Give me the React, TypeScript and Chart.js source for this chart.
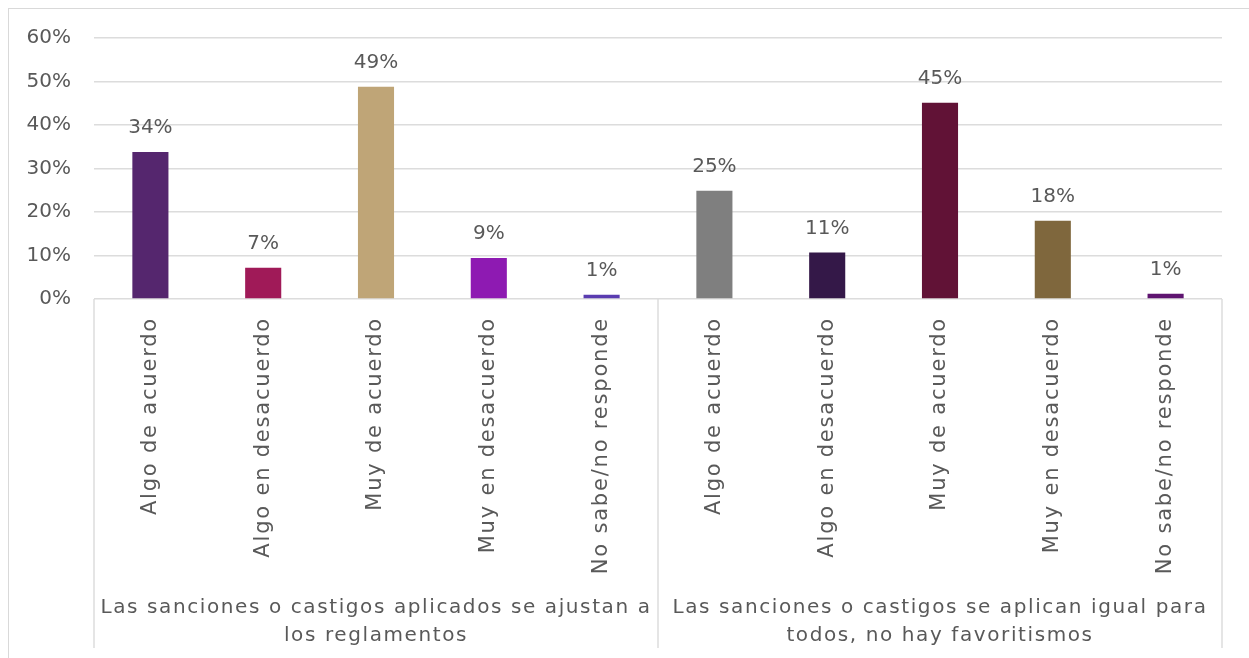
import React, { useEffect, useRef } from "react";
import { Chart, registerables } from "chart.js";

Chart.register(...registerables);

const categories = [
  "Algo de acuerdo",
  "Algo en desacuerdo",
  "Muy de acuerdo",
  "Muy en desacuerdo",
  "No sabe/no responde",
  "Algo de acuerdo",
  "Algo en desacuerdo",
  "Muy de acuerdo",
  "Muy en desacuerdo",
  "No sabe/no responde",
];

const values = [33.8, 7.2, 48.8, 9.4, 1.0, 24.9, 10.7, 45.1, 18.0, 1.2];

const barColors = [
  "#55266E",
  "#A01A58",
  "#BFA577",
  "#8E1AB2",
  "#5A3CB0",
  "#7F7F7F",
  "#341848",
  "#611236",
  "#7F673D",
  "#5E1470",
];

const groupLabels = [
  ["Las sanciones o castigos aplicados se ajustan a", "los reglamentos"],
  ["Las sanciones o castigos se aplican igual para", "todos, no hay favoritismos"],
];
const groupSizes = [5, 5];

const yTicks = [0, 10, 20, 30, 40, 50, 60];

const FONT = "'DejaVu Sans', sans-serif";
const TEXT = "#595959";
const GRID = "#DCDCDC";

const dataLabelPlugin = {
  id: "dataLabels",
  afterDatasetsDraw(chart: any) {
    const ctx = chart.ctx;
    const meta = chart.getDatasetMeta(0);
    ctx.save();
    ctx.fillStyle = TEXT;
    ctx.font = `20px ${FONT}`;
    ctx.textAlign = "center";
    ctx.textBaseline = "middle";
    meta.data.forEach((el: any, i: number) => {
      ctx.fillText(Math.round(values[i]) + "%", el.x, el.y - 24);
    });
    ctx.restore();
  },
};

const groupPlugin = {
  id: "groups",
  afterDraw(chart: any) {
    const ctx = chart.ctx;
    const xs = chart.scales.x;
    const area = chart.chartArea;
    const half = (xs.getPixelForTick(1) - xs.getPixelForTick(0)) / 2;
    const bottom = 640;

    // category labels (rotated, reading upward)
    ctx.save();
    ctx.fillStyle = TEXT;
    ctx.font = `21px ${FONT}`;
    (ctx as any).letterSpacing = "1.8px";
    ctx.textAlign = "right";
    ctx.textBaseline = "middle";
    categories.forEach((label, i) => {
      const x = xs.getPixelForTick(i);
      ctx.save();
      ctx.translate(x, area.bottom + 18);
      ctx.rotate(-Math.PI / 2);
      ctx.fillText(label, 0, 0);
      ctx.restore();
    });
    ctx.restore();

    const bounds: number[] = [area.left];
    let idx = 0;
    groupSizes.forEach((n) => {
      idx += n;
      bounds.push(xs.getPixelForTick(idx - 1) + half);
    });
    ctx.save();
    ctx.strokeStyle = GRID;
    ctx.lineWidth = 1.5;
    bounds.forEach((bx) => {
      const px = Math.round(bx);
      ctx.beginPath();
      ctx.moveTo(px, area.bottom);
      ctx.lineTo(px, bottom);
      ctx.stroke();
    });
    ctx.fillStyle = TEXT;
    ctx.font = `20px ${FONT}`;
    (ctx as any).letterSpacing = "1.6px";
    ctx.textAlign = "center";
    ctx.textBaseline = "middle";
    groupLabels.forEach((lines, g) => {
      const cx = (bounds[g] + bounds[g + 1]) / 2;
      lines.forEach((line, li) => {
        ctx.fillText(line, cx, 600 + li * 28);
      });
    });
    ctx.restore();
  },
};

export default function App() {
  const ref = useRef<HTMLCanvasElement | null>(null);

  useEffect(() => {
    if (!ref.current) return;
    const chart = new Chart(ref.current, {
      type: "bar",
      data: {
        labels: categories,
        datasets: [
          {
            data: values,
            backgroundColor: barColors,
            borderWidth: 0,
            barPercentage: 0.32,
            categoryPercentage: 1,
          },
        ],
      },
      options: {
        animation: false,
        responsive: false,
        maintainAspectRatio: false,
        layout: { padding: { left: 0, top: 30, right: 27, bottom: 0 } },
        plugins: {
          legend: { display: false },
          tooltip: { enabled: false },
        },
        scales: {
          x: {
            grid: { display: false, drawTicks: false },
            border: { display: false },
            ticks: { display: false, autoSkip: false },
            afterFit(scale: any) {
              scale.height = 359;
              scale.paddingLeft = 0;
              scale.paddingRight = 0;
            },
          },
          y: {
            min: 0,
            max: 60,
            afterBuildTicks(scale: any) {
              scale.ticks = yTicks.map((v) => ({ value: v }));
            },
            grid: { color: GRID, lineWidth: 1.5, drawTicks: false },
            border: { display: false },
            ticks: {
              padding: 23,
              color: TEXT,
              font: { family: FONT, size: 20 },
              callback: (v: any) => v + "%",
            },
            afterFit(scale: any) {
              scale.width = 86;
              scale.paddingTop = 0;
              scale.paddingBottom = 0;
            },
          },
        },
      },
      plugins: [dataLabelPlugin, groupPlugin],
    });
    return () => chart.destroy();
  }, []);

  return (
    <div
      style={{
        position: "absolute",
        left: 8,
        top: 8,
        width: 1241,
        height: 650,
        overflow: "hidden",
        background: "#fff",
      }}
    >
      <div
        style={{
          position: "absolute",
          left: 0,
          top: 0,
          width: 1300,
          height: 700,
          border: "1px solid #D9D9D9",
          boxSizing: "border-box",
        }}
      />
      <canvas
        ref={ref}
        width={1241}
        height={650}
        style={{ position: "absolute", left: 0, top: 0, width: 1241, height: 650 }}
      />
    </div>
  );
}
